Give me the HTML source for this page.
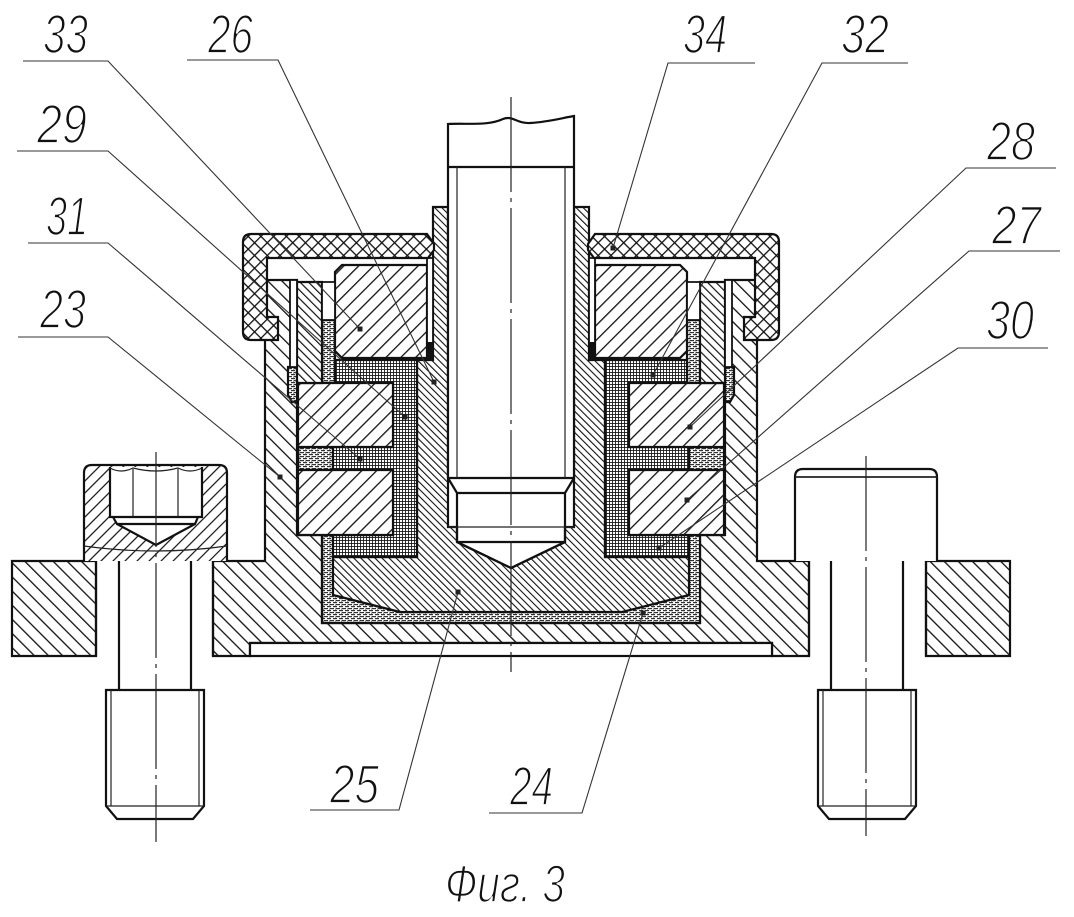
<!DOCTYPE html>
<html><head><meta charset="utf-8"><style>
html,body{margin:0;padding:0;background:#fff;}
svg{display:block}
.o{fill:none;stroke:#111;stroke-width:2.2;stroke-linejoin:miter}
.t{fill:none;stroke:#222;stroke-width:1.2}
.ld{fill:none;stroke:#333;stroke-width:1.1}
.lb{font-family:"Liberation Sans",sans-serif;font-style:italic;font-size:55px;fill:#111;stroke:#fff;stroke-width:1.8px}
.ax{fill:none;stroke:#222;stroke-width:1.2;stroke-dasharray:95 6 4 6}
</style></head><body>
<svg xmlns="http://www.w3.org/2000/svg" xmlns:xlink="http://www.w3.org/1999/xlink" width="1074" height="917" viewBox="0 0 1074 917">
<defs>
<pattern id="pH" width="10" height="10" patternUnits="userSpaceOnUse" patternTransform="rotate(-45)"><rect width="1.3" height="10" fill="#111"/></pattern>
<pattern id="pB" width="10.5" height="10" patternUnits="userSpaceOnUse" patternTransform="rotate(45)"><rect width="1.3" height="10" fill="#111"/></pattern>
<pattern id="pF" width="5" height="5" patternUnits="userSpaceOnUse" patternTransform="rotate(-45)"><rect width="1.1" height="5" fill="#111"/></pattern>
<pattern id="pR" width="6" height="6" patternUnits="userSpaceOnUse" patternTransform="rotate(-45)"><rect width="1.2" height="6" fill="#111"/></pattern>
<pattern id="pK" width="8.5" height="8" patternUnits="userSpaceOnUse" patternTransform="rotate(45)"><rect width="1.2" height="8" fill="#111"/></pattern>
<pattern id="pX" width="9" height="9" patternUnits="userSpaceOnUse" patternTransform="rotate(45)"><rect width="1.3" height="9" fill="#111"/><rect width="9" height="1.3" fill="#111"/></pattern>
<pattern id="pD" width="3" height="3" patternUnits="userSpaceOnUse"><rect width="3" height="3" fill="#fff"/><rect width="3" height="0.85" fill="#111"/><rect width="0.85" height="3" fill="#111"/></pattern>
<pattern id="pS" width="6" height="4" patternUnits="userSpaceOnUse"><rect width="6" height="4" fill="#fff"/><rect x="0" y="0" width="4" height="1.2" fill="#333"/><rect x="3" y="2" width="3" height="1.2" fill="#333"/><rect x="0" y="2" width="1" height="1.2" fill="#333"/><rect x="5" y="0.4" width="0.8" height="1.4" fill="#555"/></pattern>

<path id="capL" d="M251,234 L427,234 L434,244 L434,250 L428,258 L267,258 L267,317 L278,317 L278,340 L251,340 Q243,340 243,332 L243,242 Q243,234 251,234 Z"/>
<path id="brgU" d="M342,265 L427,265 L427,358 L342,358 L335,351 L335,272 Z"/>
<path id="brg1" d="M298,383 H393 V447 H298 Z"/>
<path id="brg2" d="M298,470 H393 V535 H298 Z"/>
<path id="ring" d="M297,282 H322 V383 H297 Z"/>
<path id="darkE" d="M335,360 L417,360 L417,557 L333,557 L333,535 L393,535 L393,470 L333,470 L333,447 L393,447 L393,383 L335,383 Z"/>
<path id="spk1" d="M322,320 H335 V383 H322 Z"/>
<path id="spk2" d="M298,447 H333 V470 H298 Z"/>
<path id="spk3" d="M288,367 H297 V402 H292 L288,395 Z"/>
<path id="flL" d="M12,561 H96 V656 H12 Z"/>
<path id="strA" d="M290,280 H297 V367 H290 Z"/>
<path id="strB" d="M427,258 H433 V360 H427 Z"/>
<path id="wcol" d="M322,282 H335 V320 H322 Z"/>
<path id="blkB" d="M427,342 H433 V360 H427 Z"/>
<path id="shL" d="M119,561 V690 M191,561 V690"/>
<path id="thL" d="M106,690 L204,690 L204,806 L193,819 L117,819 L106,806 Z"/>
<path id="thIn" d="M111,690 V806 M199,690 V806 M106,806 H204"/>

<g id="gSpk"><use href="#spk1"/><use href="#spk2"/><use href="#spk3"/></g>
<g id="gBrg"><use href="#brgU"/><use href="#brg1"/><use href="#brg2"/></g>
<g id="gStr"><use href="#strA"/><use href="#strB"/><use href="#wcol"/></g>

<clipPath id="cHous">
<path d="M213,561 L265,561 L265,280 L297,280 L297,535 L322,535 L322,623 L700,623 L700,535 L725,535 L725,280 L757,280 L757,561 L809,561 L809,656 L772,656 L772,643 L250,643 L250,656 L213,656 Z"/>
<use href="#flL"/><use href="#flL" transform="matrix(-1 0 0 1 1022 0)"/>
</clipPath>
<clipPath id="cSpk">
<path d="M322,535 L333,535 L333,595 L400,612 L622,612 L689,595 L689,535 L700,535 L700,623 L322,623 Z"/>
<use href="#spk1"/><use href="#spk2"/><use href="#spk3"/>
<use href="#spk1" transform="matrix(-1 0 0 1 1022 0)"/><use href="#spk2" transform="matrix(-1 0 0 1 1022 0)"/><use href="#spk3" transform="matrix(-1 0 0 1 1022 0)"/>
</clipPath>
<clipPath id="cDark"><use href="#darkE"/><use href="#darkE" transform="matrix(-1 0 0 1 1022 0)"/></clipPath>
<clipPath id="cBrg">
<use href="#brgU"/><use href="#brg1"/><use href="#brg2"/>
<use href="#brgU" transform="matrix(-1 0 0 1 1022 0)"/><use href="#brg1" transform="matrix(-1 0 0 1 1022 0)"/><use href="#brg2" transform="matrix(-1 0 0 1 1022 0)"/>
</clipPath>
<clipPath id="cRing"><use href="#ring"/><use href="#ring" transform="matrix(-1 0 0 1 1022 0)"/></clipPath>
<clipPath id="cCap"><use href="#capL"/><use href="#capL" transform="matrix(-1 0 0 1 1022 0)"/></clipPath>
</defs>

<rect width="1074" height="917" fill="#fff"/>

<!-- housing 23 -->
<g clip-path="url(#cHous)"><rect width="1074" height="917" fill="#fff"/><rect width="1074" height="917" fill="url(#pH)"/></g>
<path class="o" d="M213,561 L265,561 L265,280 L297,280 L297,535 L322,535 L322,623 L700,623 L700,535 L725,535 L725,280 L757,280 L757,561 L809,561 L809,656 L772,656 L772,643 L250,643 L250,656 L213,656 Z"/>
<use class="o" href="#flL"/><use class="o" href="#flL" transform="matrix(-1 0 0 1 1022 0)"/>
<!-- bottom plate -->
<rect x="250" y="643" width="522" height="13" fill="#fff" stroke="#111" stroke-width="2.2"/>

<!-- speckled parts (24 etc) -->
<g clip-path="url(#cSpk)"><rect width="1074" height="917" fill="url(#pS)"/></g>
<path class="o" d="M322,535 L333,535 L333,595 L400,612 L622,612 L689,595 L689,535 L700,535 L700,623 L322,623 Z"/>
<use class="o" href="#gSpk"/><use class="o" href="#gSpk" transform="matrix(-1 0 0 1 1022 0)"/>

<!-- body 25/26 -->
<path d="M433,207 L448,207 L448,527 L457,527 L457,542 L511,568 L565,542 L565,527 L574,527 L574,207 L589,207 L589,360 L605,360 L605,557 L689,557 L689,595 L622,612 L400,612 L333,595 L333,557 L417,557 L417,360 L433,360 Z" fill="#fff"/>
<path d="M433,207 L448,207 L448,527 L457,527 L457,542 L511,568 L565,542 L565,527 L574,527 L574,207 L589,207 L589,360 L605,360 L605,557 L689,557 L689,595 L622,612 L400,612 L333,595 L333,557 L417,557 L417,360 L433,360 Z" fill="url(#pF)"/>
<path class="o" d="M433,207 L448,207 L448,527 L457,527 L457,542 L511,568 L565,542 L565,527 L574,527 L574,207 L589,207 L589,360 L605,360 L605,557 L689,557 L689,595 L622,612 L400,612 L333,595 L333,557 L417,557 L417,360 L433,360 Z"/>

<!-- shaft -->
<path d="M448,124 C468,123 488,126 503,119 C512,115 518,124 530,123 C548,122 562,118 574,116 L574,478 L448,478 Z" fill="#fff" stroke="#111" stroke-width="2.2"/>
<path class="o" d="M448,167 H574 M448,478 L457,493 H565 L574,478 M457,493 V542 L511,568 L565,542 V493 M457,542 H565"/>
<path class="t" d="M457,167 V478 M565,167 V478 M448,527 H574"/>

<!-- dark E parts -->
<g clip-path="url(#cDark)"><rect width="1074" height="917" fill="url(#pD)"/></g>
<use class="o" href="#darkE"/><use class="o" href="#darkE" transform="matrix(-1 0 0 1 1022 0)"/>

<!-- bearings -->
<g clip-path="url(#cBrg)"><rect width="1074" height="917" fill="#fff"/><rect width="1074" height="917" fill="url(#pB)"/></g>
<use class="o" href="#gBrg"/><use class="o" href="#gBrg" transform="matrix(-1 0 0 1 1022 0)"/>

<!-- rings -->
<g clip-path="url(#cRing)"><rect width="1074" height="917" fill="#fff"/><rect width="1074" height="917" fill="url(#pR)"/></g>
<use class="o" href="#ring"/><use class="o" href="#ring" transform="matrix(-1 0 0 1 1022 0)"/>

<!-- thin strips -->
<g fill="#fff" stroke="#111" stroke-width="1.8"><use href="#gStr"/><use href="#gStr" transform="matrix(-1 0 0 1 1022 0)"/></g>
<g fill="#111"><use href="#blkB"/><use href="#blkB" transform="matrix(-1 0 0 1 1022 0)"/></g>

<!-- caps 34 -->
<g clip-path="url(#cCap)"><rect width="1074" height="917" fill="#fff"/><rect width="1074" height="917" fill="url(#pX)"/></g>
<use class="o" href="#capL"/><use class="o" href="#capL" transform="matrix(-1 0 0 1 1022 0)"/>

<!-- left bolt (section) -->
<path d="M84,561 L84,473 Q84,465 92,465 L219,465 Q227,465 227,473 L227,561 Z M110,467 L202,467 L202,517 L198,517 L195,524 L156,545 L117,524 L113,517 L110,517 Z" fill="#fff"/>
<path d="M84,561 L84,473 Q84,465 92,465 L219,465 Q227,465 227,473 L227,561 Z M110,467 L202,467 L202,517 L198,517 L195,524 L156,545 L117,524 L113,517 L110,517 Z" fill="url(#pK)" fill-rule="evenodd"/>
<path class="o" d="M84,561 L84,473 Q84,465 92,465 L219,465 Q227,465 227,473 L227,561"/>
<path class="o" d="M110,467 V517 H202 V467 M113,517 L117,524 H195 L198,517 M117,524 L156,545 L195,524"/>
<path class="t" d="M133,469 V517 M178,469 V517 M110,468 Q121,474 133,468 Q156,474 178,468 Q190,474 202,468 M84,546 Q156,556 227,546"/>
<use class="o" href="#shL"/>
<path class="o" d="M96,561 V656 M213,561 V656"/>
<path fill="#fff" stroke="#111" stroke-width="2.2" d="M106,690 L204,690 L204,806 L193,819 L117,819 L106,806 Z"/>
<use class="t" href="#thIn"/>

<!-- right bolt (view) -->
<path d="M795,561 L795,477 Q795,469 803,469 L929,469 Q937,469 937,477 L937,561" fill="#fff" stroke="#111" stroke-width="2.2"/>
<path class="t" d="M795,477 H937" style="stroke-width:1.8"/>
<g transform="matrix(-1 0 0 1 1022 0)">
<use class="o" href="#shL"/>
<path class="o" d="M96,561 V656 M213,561 V656"/>
<path fill="#fff" stroke="#111" stroke-width="2.2" d="M106,690 L204,690 L204,806 L193,819 L117,819 L106,806 Z"/>
<use class="t" href="#thIn"/>
</g>

<!-- axes -->
<path class="ax" d="M511,97 V672"/>
<path class="ax" d="M156,452 V842"/>
<path class="ax" d="M866,456 V836"/>

<!-- leaders -->
<g class="ld">
<path d="M23,61 L108,61 L360,329"/>
<path d="M187,60 L278,60 L434,382"/>
<path d="M17,151 L108,151 L405,417"/>
<path d="M28,243 L108,243 L360,459"/>
<path d="M18,337 L108,337 L280,477"/>
<path d="M755,63 L668,63 L613,248"/>
<path d="M908,63 L822,63 L653,375"/>
<path d="M1056,168 L966,168 L690,427"/>
<path d="M1060,251 L969,251 L687,500"/>
<path d="M1048,348 L958,348 L659,548"/>
<path d="M310,810 L399,810 L458,592"/>
<path d="M489,813 L582,813 L643,613"/>
</g>
<g fill="#222">
<rect x="357.5" y="326.5" width="5" height="5"/>
<rect x="431.5" y="379.5" width="5" height="5"/>
<rect x="402.5" y="414.5" width="5" height="5"/>
<rect x="357.5" y="456.5" width="5" height="5"/>
<rect x="277.5" y="474.5" width="5" height="5"/>
<rect x="610.5" y="245.5" width="5" height="5"/>
<rect x="650.5" y="372.5" width="5" height="5"/>
<rect x="687.5" y="424.5" width="5" height="5"/>
<rect x="684.5" y="497.5" width="5" height="5"/>
<rect x="656.5" y="545.5" width="5" height="5"/>
<rect x="455.5" y="589.5" width="5" height="5"/>
<rect x="640.5" y="610.5" width="5" height="5"/>
</g>

<!-- labels -->
<g class="lb">
<text x="43" y="53" textLength="45" lengthAdjust="spacingAndGlyphs">33</text>
<text x="208" y="53" textLength="45" lengthAdjust="spacingAndGlyphs">26</text>
<text x="37" y="143" textLength="50" lengthAdjust="spacingAndGlyphs">29</text>
<text x="46" y="235" textLength="42" lengthAdjust="spacingAndGlyphs">31</text>
<text x="40" y="328" textLength="46" lengthAdjust="spacingAndGlyphs">23</text>
<text x="683" y="53" textLength="44" lengthAdjust="spacingAndGlyphs">34</text>
<text x="841" y="53" textLength="48" lengthAdjust="spacingAndGlyphs">32</text>
<text x="987" y="160" textLength="48" lengthAdjust="spacingAndGlyphs">28</text>
<text x="992" y="244" textLength="49" lengthAdjust="spacingAndGlyphs">27</text>
<text x="986" y="339" textLength="48" lengthAdjust="spacingAndGlyphs">30</text>
<text x="330" y="803" textLength="49" lengthAdjust="spacingAndGlyphs">25</text>
<text x="510" y="805" textLength="43" lengthAdjust="spacingAndGlyphs">24</text>
<text x="445" y="902" textLength="120" lengthAdjust="spacingAndGlyphs" style="font-size:53px">Фиг. 3</text>
</g>
</svg>
</body></html>
